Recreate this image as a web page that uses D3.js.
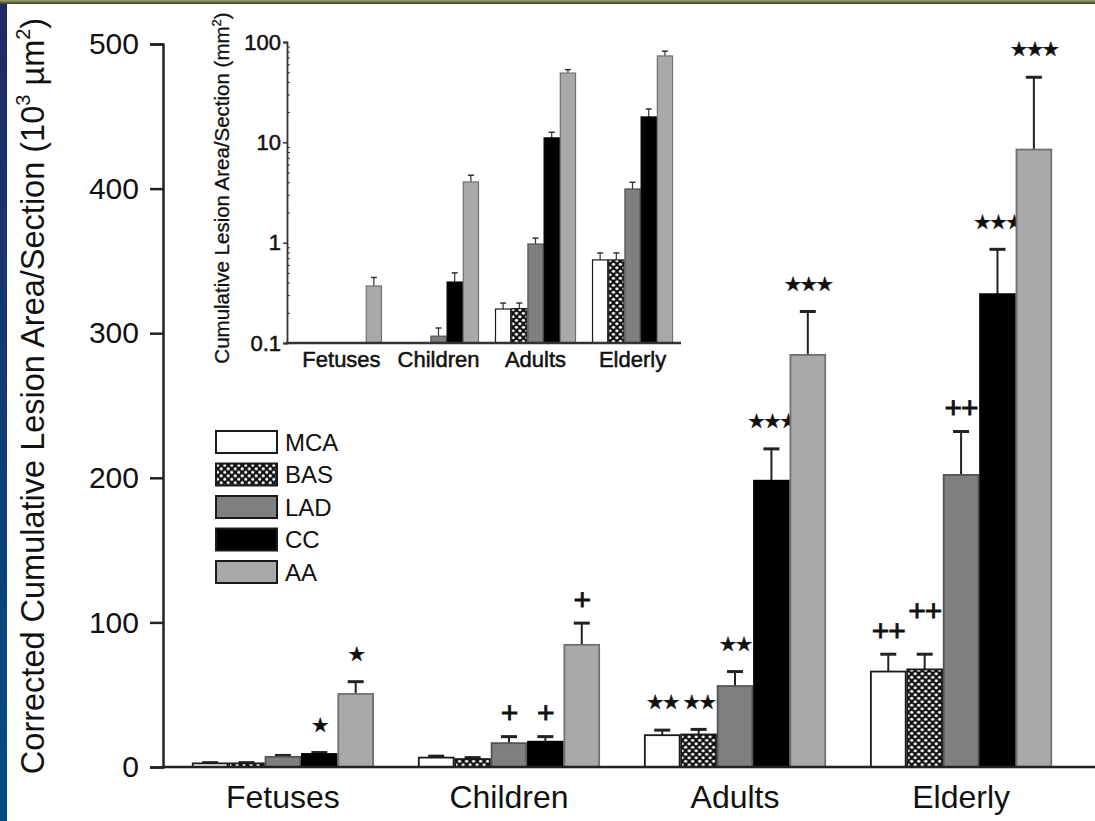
<!DOCTYPE html>
<html>
<head>
<meta charset="utf-8">
<script src="https://cdn.jsdelivr.net/npm/d3@7"></script>
<style>
  html, body { margin: 0; padding: 0; background: #fff; }
  svg { display: block; font-family: Arial, "Liberation Sans", Helvetica, sans-serif; }
</style>
</head>
<body>
<div id="chart"></div>
<script>
// groups and series
const groups = ["Fetuses", "Children", "Adults", "Elderly"];
const series = ["MCA", "BAS", "LAD", "CC", "AA"];

// main chart: corrected cumulative lesion area (10^3 um^2), mean and error-bar top
const mainMean = {
    Fetuses:  [2.5, 2.5, 7, 9, 50.5],
    Children: [6.5, 5.5, 16.5, 17.5, 84.5],
    Adults:   [22, 22.5, 56, 198, 285],
    Elderly:  [66, 67.5, 202, 327, 427]
};
const mainErrTop = {
    Fetuses:  [3, 3, 8, 10, 59],
    Children: [7.5, 6.5, 21, 21, 99.5],
    Adults:   [25.5, 26, 66, 220, 315],
    Elderly:  [78, 78, 232, 358, 477]
};
const mainMarks = {
    Fetuses:  ["", "", "", "★", "★"],
    Children: ["", "", "+", "+", "+"],
    Adults:   ["★★", "★★", "★★", "★★★", "★★★"],
    Elderly:  ["++", "++", "++", "★★★", "★★★"]
};
const mainTicks = [0, 100, 200, 300, 400, 500];

// inset: cumulative lesion area/section (mm^2), log scale
const insetMean = {
    Fetuses:  [null, null, null, null, 0.37],
    Children: [null, null, 0.117, 0.405, 4.03],
    Adults:   [0.218, 0.22, 0.97, 11.07, 49],
    Elderly:  [0.673, 0.673, 3.43, 17.9, 72.6]
};
const insetErrTop = {
    Fetuses:  [null, null, null, null, 0.45],
    Children: [null, null, 0.141, 0.5, 4.7],
    Adults:   [0.25, 0.25, 1.11, 12.6, 53],
    Elderly:  [0.79, 0.79, 4.0, 21.5, 81]
};
const insetTicks = [0.1, 1, 10, 100];

const fills = {MCA: "#ffffff", BAS: "url(#hatch)", LAD: "#7f7f7f", CC: "#000000", AA: "#a9a9a9"};
const strokes = {MCA: "#1a1a1a", BAS: "#1a1a1a", LAD: "#555555", CC: "#000000", AA: "#707070"};

const W = 1095, H = 821;
const svg = d3.select("#chart").append("svg")
    .attr("width", W).attr("height", H);

const defs = svg.append("defs");
const pat = defs.append("pattern")
    .attr("id", "hatch").attr("patternUnits", "userSpaceOnUse")
    .attr("width", 7).attr("height", 7);
pat.append("rect").attr("width", 7).attr("height", 7).attr("fill", "#111");
pat.append("circle").attr("cx", 1.75).attr("cy", 1.75).attr("r", 1.6).attr("fill", "#fff");
pat.append("circle").attr("cx", 5.25).attr("cy", 5.25).attr("r", 1.6).attr("fill", "#fff");

const lg = defs.append("linearGradient").attr("id", "side")
    .attr("x1", 0).attr("y1", 0).attr("x2", 0).attr("y2", 1);
lg.append("stop").attr("offset", "0%").attr("stop-color", "#202a62");
lg.append("stop").attr("offset", "100%").attr("stop-color", "#064c84");

const tg = defs.append("linearGradient").attr("id", "top")
    .attr("x1", 0).attr("y1", 0).attr("x2", 0).attr("y2", 1);
tg.append("stop").attr("offset", "0%").attr("stop-color", "#9aa878");
tg.append("stop").attr("offset", "100%").attr("stop-color", "#3a3a1c");

svg.append("rect").attr("width", W).attr("height", H).attr("fill", "#fff");
svg.append("rect").attr("x", 0).attr("y", 0).attr("width", 7).attr("height", H).attr("fill", "url(#side)");
svg.append("rect").attr("x", 0).attr("y", 0).attr("width", W).attr("height", 4).attr("fill", "url(#top)");

// ---------- main chart ----------
const y = d3.scaleLinear().domain([0, 500]).range([767, 44]);
const x0 = d3.scaleBand().domain(groups).range([163, 1081])
    .paddingInner(0.195).paddingOuter(0.128);
const x1 = d3.scaleBand().domain(series).range([0, x0.bandwidth()]);

const main = svg.append("g");

const yAxis = main.append("g")
    .attr("transform", "translate(163,0)")
    .call(d3.axisLeft(y).tickValues(mainTicks).tickSize(13).tickPadding(11));
yAxis.select(".domain").attr("stroke", "#222").attr("stroke-width", 2.5);
yAxis.selectAll(".tick line").attr("stroke", "#222").attr("stroke-width", 2.5);
yAxis.selectAll(".tick text").attr("font-size", 30).attr("fill", "#111")
    .attr("font-family", "Arial, 'Liberation Sans', sans-serif");

const rows = groups.flatMap(g => series.map((s, i) => ({
    g, s, v: mainMean[g][i], e: mainErrTop[g][i], m: mainMarks[g][i]
})));

const bars = main.selectAll(".bar").data(rows).enter().append("g")
    .attr("transform", d => `translate(${x0(d.g) + x1(d.s)},0)`);

bars.append("line")
    .attr("x1", x1.bandwidth() / 2).attr("x2", x1.bandwidth() / 2)
    .attr("y1", d => y(d.v)).attr("y2", d => y(d.e))
    .attr("stroke", "#222").attr("stroke-width", 2);
bars.append("line")
    .attr("x1", x1.bandwidth() / 2 - 8).attr("x2", x1.bandwidth() / 2 + 8)
    .attr("y1", d => y(d.e)).attr("y2", d => y(d.e))
    .attr("stroke", "#222").attr("stroke-width", 3);

bars.append("rect")
    .attr("x", 0.8).attr("width", x1.bandwidth() - 1.6)
    .attr("y", d => y(d.v)).attr("height", d => y(0) - y(d.v))
    .attr("fill", d => fills[d.s]).attr("stroke", d => strokes[d.s]).attr("stroke-width", 1.8);

// significance marks above the error bars
const isPlus = m => m.includes("+");
const marks = bars.filter(d => d.m !== "").append("text")
    .attr("x", x1.bandwidth() / 2)
    .attr("y", d => y(d.e) - (isPlus(d.m) ? 24 : 28))
    .attr("text-anchor", "middle")
    .attr("font-family", d => isPlus(d.m) ? "Arial, 'Liberation Sans', sans-serif" : "'DejaVu Sans', sans-serif")
    .attr("font-size", d => isPlus(d.m) ? 30 : 20)
    .attr("font-weight", d => isPlus(d.m) ? "normal" : "bold")
    .attr("stroke", "#111")
    .attr("stroke-width", d => isPlus(d.m) ? 0.8 : 0.4)
    .attr("letter-spacing", d => isPlus(d.m) ? -1 : -2)
    .attr("fill", "#111")
    .attr("dy", "0.36em")
    .text(d => d.m);

// lift a "++" mark when it would run into the one on its left
let prevBox = null;
marks.each(function(d) {
    const node = this;
    const b = node.getBoundingClientRect();
    if (isPlus(d.m) && prevBox && b.left < prevBox.right + 4 && Math.abs(b.top - prevBox.top) < b.height) {
        const lift = b.height * 0.6;
        d3.select(node).attr("y", +d3.select(node).attr("y") - lift);
        prevBox = node.getBoundingClientRect();
    } else {
        prevBox = b;
    }
});

const xAxis = main.append("g")
    .attr("transform", "translate(0,767)")
    .call(d3.axisBottom(x0).tickSize(0).tickPadding(18));
xAxis.select(".domain").remove();
xAxis.selectAll(".tick text").attr("font-size", 32).attr("fill", "#111")
    .attr("font-family", "Arial, 'Liberation Sans', sans-serif");
main.append("line").attr("x1", 162).attr("x2", W).attr("y1", 767).attr("y2", 767)
    .attr("stroke", "#222").attr("stroke-width", 2.5);

const yTitle = main.append("text")
    .attr("transform", "translate(44,396) rotate(-90)")
    .attr("text-anchor", "middle")
    .attr("font-size", 32.5).attr("fill", "#111");
yTitle.append("tspan").text("Corrected Cumulative Lesion Area/Section (10");
yTitle.append("tspan").attr("font-size", 20).attr("dy", -14).text("3");
yTitle.append("tspan").attr("dy", 14).text(" µm");
yTitle.append("tspan").attr("font-size", 20).attr("dy", -14).text("2");
yTitle.append("tspan").attr("dy", 14).text(")");

// ---------- legend ----------
const legend = main.append("g").attr("transform", "translate(216,431)");
const li = legend.selectAll(".li").data(series).enter().append("g")
    .attr("transform", (d, i) => `translate(0,${i * 32.5})`);
li.append("rect").attr("width", 61).attr("height", 22)
    .attr("fill", d => fills[d]).attr("stroke", "#1a1a1a").attr("stroke-width", 2);
li.append("text").attr("x", 69).attr("y", 11).attr("dy", "0.36em")
    .attr("font-size", 24).attr("fill", "#111").text(d => d);

// ---------- inset ----------
const yi = d3.scaleLog().domain([0.1, 100]).range([343, 42]);
const xi0 = d3.scaleBand().domain(groups).range([287, 687])
    .paddingInner(0.165).paddingOuter(0.144);
const xi1 = d3.scaleBand().domain(series).range([0, xi0.bandwidth()]);

const inset = svg.append("g");

const minor = [];
[0.1, 1, 10].forEach(b => { for (let k = 2; k <= 9; k++) minor.push(b * k); });

inset.append("g").attr("transform", "translate(287,0)")
    .call(d3.axisRight(yi).tickValues(minor).tickSize(3).tickFormat(""))
    .call(g => g.select(".domain").remove())
    .selectAll(".tick line").attr("stroke", "#333").attr("stroke-width", 1);

const yiAxis = inset.append("g").attr("transform", "translate(287,0)")
    .call(d3.axisLeft(yi).tickValues(insetTicks).tickSize(4).tickPadding(2)
        .tickFormat(d => d < 1 ? "0.1" : d3.format("d")(d)));
yiAxis.select(".domain").attr("stroke", "#333").attr("stroke-width", 1.8);
yiAxis.selectAll(".tick line").attr("stroke", "#333").attr("stroke-width", 1.5);
yiAxis.selectAll(".tick text").attr("font-size", 22).attr("fill", "#111")
    .attr("stroke", "#111").attr("stroke-width", 0.5);

const irows = groups.flatMap(g => series.map((s, i) => ({
    g, s, v: insetMean[g][i], e: insetErrTop[g][i]
}))).filter(d => d.v !== null);

const ibars = inset.selectAll(".ibar").data(irows).enter().append("g")
    .attr("transform", d => `translate(${xi0(d.g) + xi1(d.s)},0)`);
ibars.append("line")
    .attr("x1", xi1.bandwidth() / 2).attr("x2", xi1.bandwidth() / 2)
    .attr("y1", d => yi(d.v)).attr("y2", d => yi(d.e))
    .attr("stroke", "#333").attr("stroke-width", 1.2);
ibars.append("line")
    .attr("x1", xi1.bandwidth() / 2 - 3).attr("x2", xi1.bandwidth() / 2 + 3)
    .attr("y1", d => yi(d.e)).attr("y2", d => yi(d.e))
    .attr("stroke", "#333").attr("stroke-width", 1.5);
ibars.append("rect")
    .attr("x", 0.5).attr("width", xi1.bandwidth() - 1)
    .attr("y", d => yi(d.v)).attr("height", d => yi(0.1) - yi(d.v))
    .attr("fill", d => fills[d.s]).attr("stroke", d => strokes[d.s]).attr("stroke-width", 1.2);

const xiAxis = inset.append("g").attr("transform", "translate(0,343)")
    .call(d3.axisBottom(xi0).tickSize(0).tickPadding(8));
xiAxis.select(".domain").remove();
xiAxis.selectAll(".tick text").attr("font-size", 22).attr("fill", "#111")
    .attr("stroke", "#111").attr("stroke-width", 0.5);
inset.append("line").attr("x1", 286).attr("x2", 681).attr("y1", 343).attr("y2", 343)
    .attr("stroke", "#333").attr("stroke-width", 2.5);

const iTitle = inset.append("text")
    .attr("transform", "translate(229,188) rotate(-90)")
    .attr("text-anchor", "middle")
    .attr("font-size", 20.5).attr("fill", "#111")
    .attr("stroke", "#111").attr("stroke-width", 0.3);
iTitle.append("tspan").text("Cumulative Lesion Area/Section (mm");
iTitle.append("tspan").attr("font-size", 13).attr("dy", -8).text("2");
iTitle.append("tspan").attr("dy", 8).text(")");
</script>
</body>
</html>
